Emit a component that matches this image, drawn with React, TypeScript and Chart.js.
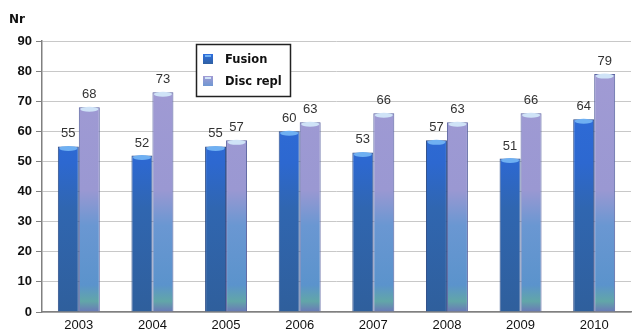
import React, { useEffect, useRef } from "react";
import { Chart, registerables } from "chart.js";

Chart.register(...registerables);

const years = ["2003", "2004", "2005", "2006", "2007", "2008", "2009", "2010"];
const fusion = [55, 52, 55, 60, 53, 57, 51, 64];
const discRepl = [68, 73, 57, 63, 66, 63, 66, 79];
const seriesNames = ["Fusion", "Disc repl"];
const yTicks = [0, 10, 20, 30, 40, 50, 60, 70, 80, 90];

const FONT = "'Liberation Sans', Arial, sans-serif";
const FONT2 = "'DejaVu Sans', Verdana, sans-serif";

function fusionFill(ctx: any) {
  const chart = ctx.chart;
  const area = chart.chartArea;
  if (!area) return "#2e66c4";
  const y0 = chart.scales.y.getPixelForValue(0);
  const y90 = chart.scales.y.getPixelForValue(90);
  const g = chart.ctx.createLinearGradient(0, y90, 0, y0);
  g.addColorStop(0, "#2f6fe0");
  g.addColorStop(0.45, "#2d68d0");
  g.addColorStop(0.62, "#3066b0");
  g.addColorStop(1, "#2f5f9c");
  return g;
}

function discFill(ctx: any) {
  const chart = ctx.chart;
  const area = chart.chartArea;
  if (!area) return "#8f95cf";
  const y0 = chart.scales.y.getPixelForValue(0);
  const y90 = chart.scales.y.getPixelForValue(90);
  const g = chart.ctx.createLinearGradient(0, y90, 0, y0);
  g.addColorStop(0, "#a29bd4");
  g.addColorStop(0.55, "#9a98d2");
  g.addColorStop(0.68, "#6a97d2");
  g.addColorStop(0.9, "#5b93cc");
  g.addColorStop(0.96, "#62a6a8");
  g.addColorStop(1, "#6a78b8");
  return g;
}

const decorPlugin = {
  id: "decor",
  afterDatasetsDraw(chart: any) {
    const ctx = chart.ctx;
    ctx.save();
    chart.data.datasets.forEach((ds: any, di: number) => {
      const meta = chart.getDatasetMeta(di);
      meta.data.forEach((bar: any, i: number) => {
        const w = bar.width;
        const cx = bar.x;
        const top = bar.y;
        ctx.beginPath();
        ctx.ellipse(cx, top + 2, w / 2 - 1.5, 2.5, 0, 0, Math.PI * 2);
        ctx.fillStyle = di === 0 ? "#6fb0f2" : "#cfe3f7";
        ctx.fill();
        ctx.fillStyle = "#333333";
        ctx.font = `13px ${FONT}`;
        ctx.textAlign = "center";
        ctx.textBaseline = "bottom";
        ctx.fillText(String(ds.data[i]), cx, top - 6);
      });
    });
    // legend box
    const lx = 196, ly = 44, lw = 94, lh = 52;
    ctx.fillStyle = "#ffffff";
    ctx.fillRect(lx, ly, lw, lh);
    ctx.strokeStyle = "#222222";
    ctx.lineWidth = 1.5;
    ctx.strokeRect(lx + 0.5, ly + 0.5, lw, lh);
    const colors = [["#2f6fe0", "#2f5f9c"], ["#a29bd4", "#6a97d2"]];
    seriesNames.forEach((name, k) => {
      const y = ly + 15 + k * 22;
      const g = ctx.createLinearGradient(0, y - 5, 0, y + 6);
      g.addColorStop(0, colors[k][0]);
      g.addColorStop(1, colors[k][1]);
      ctx.fillStyle = g;
      ctx.fillRect(lx + 7, y - 5, 10, 10);
      ctx.fillStyle = k === 0 ? "#6fb0f2" : "#cfe3f7";
      ctx.fillRect(lx + 9, y - 4, 6, 2);
      ctx.fillStyle = "#111111";
      ctx.font = `bold 11.5px ${FONT2}`;
      ctx.textAlign = "left";
      ctx.textBaseline = "middle";
      ctx.fillText(name, lx + 29, y + 1);
    });
    ctx.fillStyle = "#111111";
    ctx.font = `bold 12px ${FONT2}`;
    ctx.textAlign = "left";
    ctx.textBaseline = "alphabetic";
    ctx.fillText("Nr", 9, 23);
    ctx.restore();
  },
};

export default function App() {
  const ref = useRef<HTMLCanvasElement | null>(null);
  useEffect(() => {
    if (!ref.current) return;
    const chart = new Chart(ref.current, {
      type: "bar",
      data: {
        labels: years,
        datasets: [
          {
            label: seriesNames[0],
            data: fusion,
            backgroundColor: fusionFill as any,
            borderColor: "#2a4a86",
            borderWidth: 1,
            categoryPercentage: 0.57,
            barPercentage: 1.0,
          },
          {
            label: seriesNames[1],
            data: discRepl,
            backgroundColor: discFill as any,
            borderColor: "#5a64a0",
            borderWidth: 1,
            categoryPercentage: 0.57,
            barPercentage: 1.0,
          },
        ],
      },
      options: {
        animation: false,
        responsive: false,
        maintainAspectRatio: false,
        layout: { padding: { top: 41, right: 3, left: 0, bottom: 0 } },
        plugins: {
          legend: { display: false },
          tooltip: { enabled: false },
          title: { display: false },
        },
        scales: {
          x: {
            grid: { display: false, drawTicks: false },
            border: { display: true, color: "#808080", width: 1.5 },
            ticks: {
              color: "#111111",
              font: { family: FONT, size: 13 },
              padding: 6,
            },
            afterFit(scale: any) {
              scale.height = 22;
            },
          },
          y: {
            min: 0,
            max: 90,
            afterBuildTicks(scale: any) {
              scale.ticks = yTicks.map((v) => ({ value: v }));
            },
            grid: {
              color: "#c8c8c8",
              lineWidth: 1,
              drawTicks: true,
              tickLength: 6,
              tickColor: "#808080",
            },
            border: { display: true, color: "#808080", width: 1.5 },
            ticks: {
              color: "#111111",
              font: { family: FONT, size: 13, weight: "bold" },
              padding: 4,
            },
            afterFit(scale: any) {
              scale.width = 42;
            },
          },
        },
      },
      plugins: [decorPlugin],
    });
    return () => chart.destroy();
  }, []);
  return (
    <div style={{ position: "absolute", left: 0, top: 0, width: 634, height: 334, background: "#ffffff" }}>
      <canvas ref={ref} width={634} height={334} style={{ width: 634, height: 334 }} />
    </div>
  );
}
